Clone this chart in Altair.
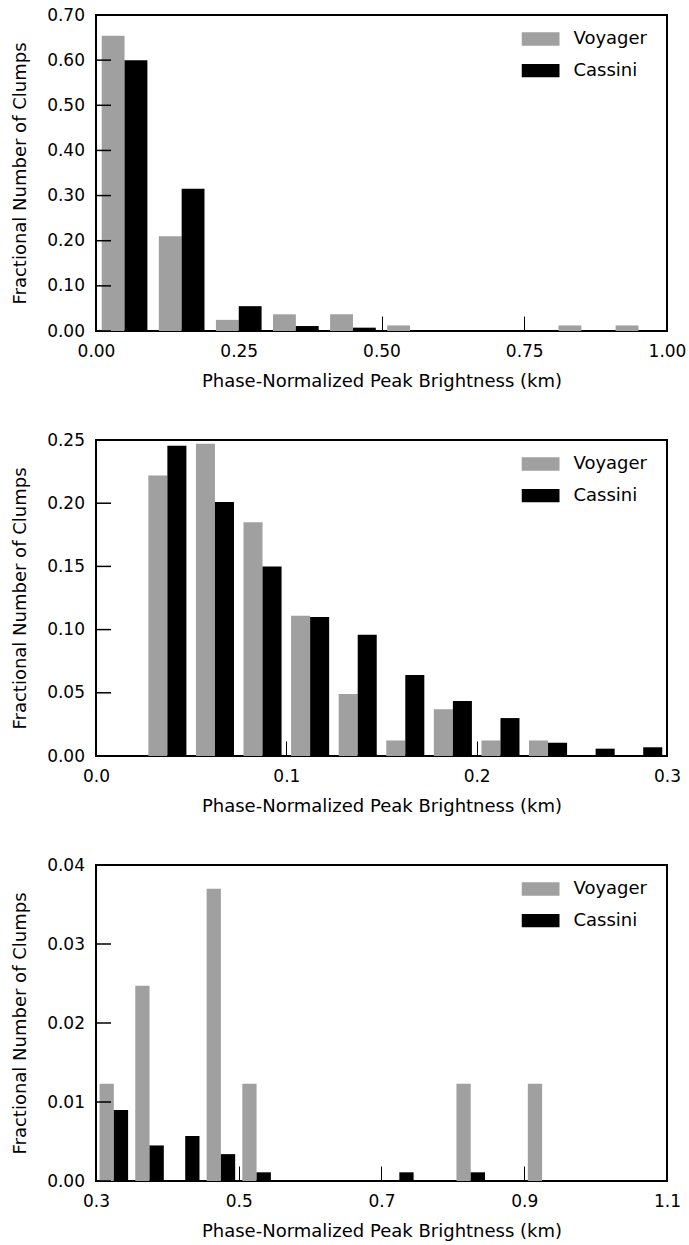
import altair as alt
import pandas as pd

series = ["Voyager", "Cassini"]
colors = ["#a0a0a0", "#000000"]

# Panel 1: bins of width 0.1 from 0.0 to 1.0
p1_start, p1_width = 0.0, 0.1
p1_voyager = [0.654, 0.210, 0.0247, 0.037, 0.037, 0.0123, 0.0, 0.0, 0.0123, 0.0123]
p1_cassini = [0.600, 0.315, 0.055, 0.011, 0.0074, 0.0, 0.0, 0.0, 0.0, 0.0]
p1_xticks = [0.0, 0.25, 0.5, 0.75, 1.0]
p1_yticks = [0.0, 0.1, 0.2, 0.3, 0.4, 0.5, 0.6, 0.7]

# Panel 2: bins of width 0.025 from 0.0 to 0.3
p2_start, p2_width = 0.0, 0.025
p2_voyager = [0.0, 0.222, 0.247, 0.185, 0.111, 0.049, 0.0123, 0.037, 0.0123, 0.0123, 0.0, 0.0]
p2_cassini = [0.0, 0.2455, 0.201, 0.150, 0.110, 0.096, 0.064, 0.0435, 0.030, 0.0105, 0.0058, 0.0069]
p2_xticks = [0.0, 0.1, 0.2, 0.3]
p2_yticks = [0.0, 0.05, 0.10, 0.15, 0.20, 0.25]

# Panel 3: bins of width 0.05 from 0.3 to 1.1
p3_start, p3_width = 0.3, 0.05
p3_voyager = [0.0123, 0.0247, 0.0, 0.037, 0.0123, 0.0, 0.0, 0.0, 0.0, 0.0, 0.0123, 0.0, 0.0123, 0.0, 0.0, 0.0]
p3_cassini = [0.0090, 0.0045, 0.0057, 0.0034, 0.0011, 0.0, 0.0, 0.0, 0.0011, 0.0, 0.0011, 0.0, 0.0, 0.0, 0.0, 0.0]
p3_xticks = [0.3, 0.5, 0.7, 0.9, 1.1]
p3_yticks = [0.0, 0.01, 0.02, 0.03, 0.04]

XTITLE = "Phase-Normalized Peak Brightness (km)"
YTITLE = "Fractional Number of Clumps"
FONT = "DejaVu Sans"


def make_df(start, width, voy, cas):
    rows = []
    for i, (v, c) in enumerate(zip(voy, cas)):
        lo = start + i * width
        rows.append({"series": "Voyager", "x0": lo + 0.1 * width, "x1": lo + 0.5 * width, "y": v})
        rows.append({"series": "Cassini", "x0": lo + 0.5 * width, "x1": lo + 0.9 * width, "y": c})
    return pd.DataFrame(rows)


def text_kw():
    return dict(
        domain=False, grid=False, labelFontSize=17, labelFont=FONT, labelColor="black",
        titleFontSize=18, titleFont=FONT, titleFontWeight="normal", titleColor="black",
        labelOverlap=False, labelFlush=False,
    )


def panel(df, xdom, xticks, xfmt, ydom, yticks):
    yscale = alt.Scale(domain=ydom, nice=False)
    bars = alt.Chart(df).mark_rect().encode(
        x=alt.X("x0:Q", scale=alt.Scale(domain=xdom, nice=False, zero=False),
                axis=alt.Axis(values=xticks, format=xfmt, title=XTITLE,
                              offset=-15, tickSize=15, tickWidth=1, tickColor="black",
                              zindex=1, labelPadding=12, titlePadding=13, **text_kw())),
        x2="x1:Q",
        y=alt.Y("y:Q", scale=yscale,
                axis=alt.Axis(values=yticks, format=".2f", title=YTITLE, ticks=False,
                              labelPadding=11.5, titlePadding=17, **text_kw())),
        y2=alt.datum(0),
        color=alt.Color("series:N", scale=alt.Scale(domain=series, range=colors),
                        legend=alt.Legend(
                            title=None, orient="none", legendX=425.5, legendY=17,
                            symbolType="M-1,-0.35L1,-0.35L1,0.35L-1,0.35Z",
                            symbolSize=1444, symbolStrokeWidth=0, symbolOpacity=1,
                            clipHeight=14, rowPadding=13.7, labelOffset=14,
                            labelFontSize=18, labelFont=FONT, labelColor="black",
                            padding=0, symbolOffset=0)),
    )
    # inward y tick marks (matplotlib classic style)
    yt = alt.Chart(pd.DataFrame({"y": yticks})).mark_rule(
        color="black", strokeWidth=1.5, opacity=1
    ).encode(
        y=alt.Y("y:Q", scale=yscale),
        x=alt.value(0),
        x2=alt.value(15),
    )
    return alt.layer(bars, yt).properties(width=571, height=316)


c1 = panel(make_df(p1_start, p1_width, p1_voyager, p1_cassini), [0.0, 1.0], p1_xticks, ".2f", [0, 0.7], p1_yticks)
c2 = panel(make_df(p2_start, p2_width, p2_voyager, p2_cassini), [0.0, 0.3], p2_xticks, ".1f", [0, 0.25], p2_yticks)
c3 = panel(make_df(p3_start, p3_width, p3_voyager, p3_cassini), [0.3, 1.1], p3_xticks, ".1f", [0, 0.04], p3_yticks)

chart = alt.vconcat(c1, c2, c3, spacing=39, background="white").resolve_legend(color="independent").properties(
    padding={"left": 10, "top": 5, "right": 0, "bottom": 0}
).configure_view(stroke="black", strokeWidth=2)

chart.save("out.html", embed_options={"renderer": "svg", "actions": False})
